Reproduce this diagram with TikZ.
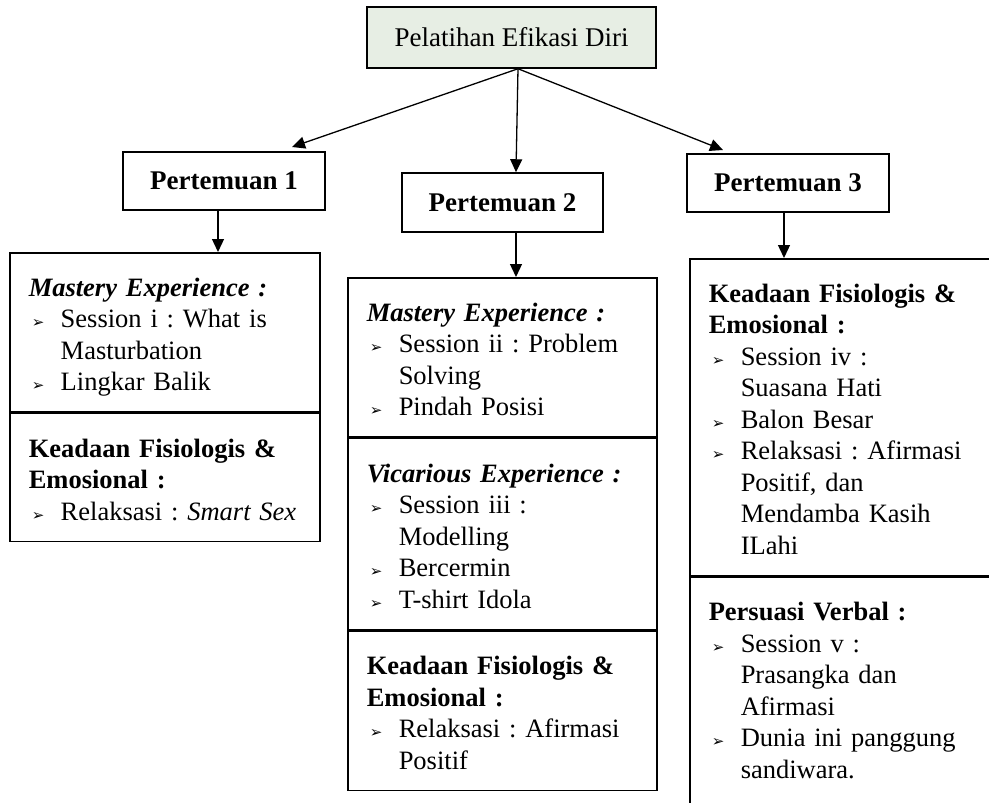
\documentclass[tikz,border=0pt]{standalone}
\usepackage{fontspec}
\setmainfont{Liberation Serif}
\newfontfamily\dingfont{DejaVu Sans}
\usetikzlibrary{arrows.meta,positioning}
\definecolor{headfill}{RGB}{231,238,228}
\frenchspacing
\newcommand{\bul}{{\dingfont\fontsize{15}{15}\selectfont ➢}}
\newcommand{\hd}[1]{\par\noindent\strut#1\par}
\newcommand{\itm}[1]{\par\hangindent=32pt\hangafter=1\noindent\hbox to 32pt{\hspace{3pt}\bul\hfil}\strut#1\strut\par}
\begin{document}
\begin{tikzpicture}[x=1pt,y=-1pt,
    sect/.style={draw,line width=1.5pt,anchor=north west,inner xsep=19pt,inner ysep=12pt,
      align=left,font=\fontsize{26.5}{31.5}\selectfont},
    meet/.style={draw,line width=1.5pt,minimum width=202pt,minimum height=58pt,inner sep=0pt,
      font=\fontsize{27}{31.5}\selectfont\bfseries},
    arr/.style={-{Triangle[length=13pt,width=12pt]},line width=1.3pt}]
  \useasboundingbox (0,0) rectangle (989,803);
  %\draw [help lines] (0,0) grid (989,803);
  \node[draw,line width=1.5pt,fill=headfill,minimum width=289pt,minimum height=61pt,inner sep=0pt,
    font=\fontsize{27}{31.5}\selectfont] (latih) at (511.5,37.5) {Pelatihan Efikasi Diri};
  \node[meet] (p1) at (224,181) {Pertemuan 1};
  \node[meet,minimum width=201pt,minimum height=59pt] (p2) at (502.5,202.5) {Pertemuan 2};
  \node[meet] (p3) at (788,183) {Pertemuan 3};

  \node[sect,text width=272pt] (c1a) at (9,252) {
    \hd{\textbf{\textit{Mastery Experience :}}}
    \itm{Session i : What is\newline Masturbation}
    \itm{Lingkar Balik}};
  \node[sect,text width=272pt] (c1b) at (c1a.south west) {
    \hd{\textbf{Keadaan Fisiologis \&\newline Emosional :}}
    \itm{Relaksasi : \textit{Smart Sex}}};

  \node[sect,text width=271pt] (c2a) at (347,277) {
    \hd{\textbf{\textit{Mastery Experience :}}}
    \itm{Session ii : Problem\newline Solving}
    \itm{Pindah Posisi}};
  \node[sect,text width=271pt] (c2b) at (c2a.south west) {
    \hd{\textbf{\textit{Vicarious Experience :}}}
    \itm{Session iii :\newline Modelling}
    \itm{Bercermin}
    \itm{T-shirt Idola}};
  \node[sect,text width=271pt] (c2c) at (c2b.south west) {
    \hd{\textbf{Keadaan Fisiologis \&\newline Emosional :}}
    \itm{Relaksasi : Afirmasi\newline Positif}};

  \node[sect,text width=292pt] (c3a) at (689,258) {
    \hd{\textbf{Keadaan Fisiologis \&\newline Emosional :}}
    \itm{Session iv :\newline Suasana Hati}
    \itm{Balon Besar}
    \itm{Relaksasi : Afirmasi\newline Positif, dan\newline Mendamba Kasih\newline ILahi}};
  \node[sect,text width=292pt] (c3b) at (c3a.south west) {
    \hd{\textbf{Persuasi Verbal :}}
    \itm{Session v :\newline Prasangka dan\newline Afirmasi}
    \itm{Dunia ini panggung\newline sandiwara.}
    \rule{0pt}{90pt}\par};

  \coordinate (src) at ([xshift=6.5pt]latih.south);
  \coordinate (e1) at (292,147);
  \coordinate (e3) at (723,150);
  \coordinate (d1) at (218,0);
  \coordinate (d2) at (516,0);
  \coordinate (d3) at (784,0);

  \draw[arr] (src) to (e1);
  \draw[arr] (src) to (p2.north -| d2);
  \draw[arr] (src) to (e3);
  \draw[arr] (p1.south -| d1) to (c1a.north -| d1);
  \draw[arr] (p2.south -| d2) to (c2a.north -| d2);
  \draw[arr] (p3.south -| d3) to (c3a.north -| d3);
\end{tikzpicture}
\end{document}
